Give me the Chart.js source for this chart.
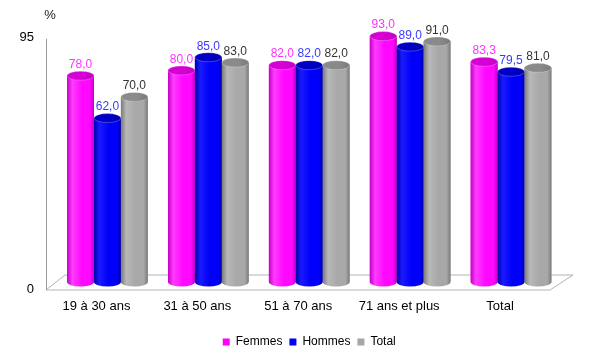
<!DOCTYPE html>
<html><head><meta charset="utf-8">
<script src="https://cdn.jsdelivr.net/npm/chart.js@4"></script>
<style>html,body{margin:0;padding:0;background:#fff}#wrap{width:600px;height:355px;position:relative}</style>
</head><body><div id="wrap"><canvas id="c" width="600" height="355"></canvas></div>
<script>
const categories = ['19 à 30 ans', '31 à 50 ans', '51 à 70 ans', '71 ans et plus', 'Total'];
const seriesNames = ['Femmes', 'Hommes', 'Total'];
const femmes = [78.0, 80.0, 82.0, 93.0, 83.3];
const hommes = [62.0, 85.0, 82.0, 89.0, 79.5];
const total = [70.0, 83.0, 82.0, 91.0, 81.0];
const yTicks = [0, 95];
const yUnit = '%';

const FONT = "'Liberation Sans', Arial, sans-serif";
const styles = [
  {solid: '#ff00ff', edge: '#c600c6', light: '#ff3cff', mid: '#ff08ff', top: '#d400d4', label: '#ff33ff'},
  {solid: '#0000ff', edge: '#0000a8', light: '#1a1aff', mid: '#0000fa', top: '#0000c4', label: '#3a3aff'},
  {solid: '#a6a6a6', edge: '#7a7a7a', light: '#b8b8b8', mid: '#a8a8a8', top: '#8a8a8a', label: '#333333'}
];
const seriesValues = [femmes, hommes, total];

function cylinder(ctx, x, top, base, w, st) {
  const l = x - w / 2, r = x + w / 2, ry = 4.5;
  const g = ctx.createLinearGradient(l, 0, r, 0);
  g.addColorStop(0, st.edge);
  g.addColorStop(0.2, st.light);
  g.addColorStop(0.55, st.mid);
  g.addColorStop(0.85, st.mid);
  g.addColorStop(1, st.edge);
  ctx.fillStyle = g;
  ctx.beginPath();
  ctx.moveTo(l, top);
  ctx.lineTo(l, base);
  ctx.ellipse(x, base, w / 2, ry, 0, Math.PI, 0, true);
  ctx.lineTo(r, top);
  ctx.closePath();
  ctx.fill();
  const g2 = ctx.createLinearGradient(l, 0, r, 0);
  g2.addColorStop(0, st.top);
  g2.addColorStop(0.6, st.top);
  g2.addColorStop(1, st.edge);
  ctx.fillStyle = g2;
  ctx.beginPath();
  ctx.ellipse(x, top, w / 2, ry, 0, 0, Math.PI * 2);
  ctx.fill();
  ctx.strokeStyle = 'rgba(255,255,255,0.3)';
  ctx.lineWidth = 0.8;
  ctx.stroke();
}

const decor = {
  id: 'decor',
  beforeDatasetsDraw(chart) {
    const {ctx, chartArea: ca, scales: {y}} = chart;
    const y0 = y.getPixelForValue(0), yTop = y.getPixelForValue(yTicks[yTicks.length - 1]);
    ctx.save();
    const fl = ca.left - 11, fr = ca.right - 11.5, bl = ca.left + 8, br = ca.right + 11.5;
    const fy = y0 + 8, by = y0 - 7;
    ctx.beginPath();
    ctx.moveTo(fl, fy); ctx.lineTo(fr, fy); ctx.lineTo(br, by); ctx.lineTo(bl, by); ctx.closePath();
    ctx.fillStyle = '#ffffff'; ctx.fill();
    ctx.strokeStyle = '#b4b4b4'; ctx.lineWidth = 1; ctx.stroke();
    ctx.beginPath();
    ctx.moveTo(fl + 0.5, yTop + 8); ctx.lineTo(fl + 0.5, fy);
    ctx.strokeStyle = '#9a9a9a'; ctx.stroke();
    ctx.fillStyle = '#222';
    ctx.font = '13px ' + FONT;
    ctx.textAlign = 'center'; ctx.textBaseline = 'middle';
    ctx.fillText(yUnit, fl + 4, 15);
    ctx.restore();
  },
  afterDatasetsDraw(chart) {
    const {ctx} = chart;
    ctx.save();
    for (let i = 0; i < categories.length; i++) {
      for (let d = 0; d < seriesValues.length; d++) {
        const el = chart.getDatasetMeta(d).data[i];
        const p = el.getProps(['x', 'y', 'base', 'width'], true);
        cylinder(ctx, p.x, p.y, p.base, p.width, styles[d]);
      }
    }
    ctx.font = '12px ' + FONT;
    ctx.textAlign = 'center'; ctx.textBaseline = 'middle';
    for (let d = 0; d < seriesValues.length; d++) {
      chart.getDatasetMeta(d).data.forEach((el, i) => {
        const p = el.getProps(['x', 'y'], true);
        ctx.fillStyle = styles[d].label;
        ctx.fillText(seriesValues[d][i].toFixed(1).replace('.', ','), p.x, p.y - 11);
      });
    }
    ctx.restore();
  }
};

new Chart(document.getElementById('c'), {
  type: 'bar',
  data: {
    labels: categories,
    datasets: seriesValues.map((v, d) => ({
      label: seriesNames[d],
      data: v,
      backgroundColor: styles[d].solid,
      borderWidth: 0,
      categoryPercentage: 0.8,
      barPercentage: 1.0
    }))
  },
  options: {
    responsive: false,
    animation: false,
    devicePixelRatio: 1,
    layout: {padding: {top: 27.5, left: 0, right: 38.5, bottom: -3}},
    scales: {
      x: {
        grid: {display: false, drawTicks: false},
        border: {display: false},
        ticks: {color: '#000', font: {family: FONT, size: 13}, padding: 17, labelOffset: -11, maxRotation: 0, autoSkip: false},
        afterFit(s) { s.height = 47; }
      },
      y: {
        min: 0, max: 95,
        grid: {display: false, drawTicks: false},
        border: {display: false},
        afterBuildTicks(s) { s.ticks = yTicks.map(v => ({value: v})); },
        ticks: {color: '#000', font: {family: FONT, size: 13}, padding: 23, labelOffset: 7},
        afterFit(s) { s.width = 57; }
      }
    },
    plugins: {
      legend: {
        position: 'bottom',
        fullSize: false,
        labels: {boxWidth: 7, boxHeight: 7, padding: 7, color: '#000', font: {family: FONT, size: 12}}
      },
      tooltip: {enabled: false}
    }
  },
  plugins: [decor]
});
</script>
</body></html>
